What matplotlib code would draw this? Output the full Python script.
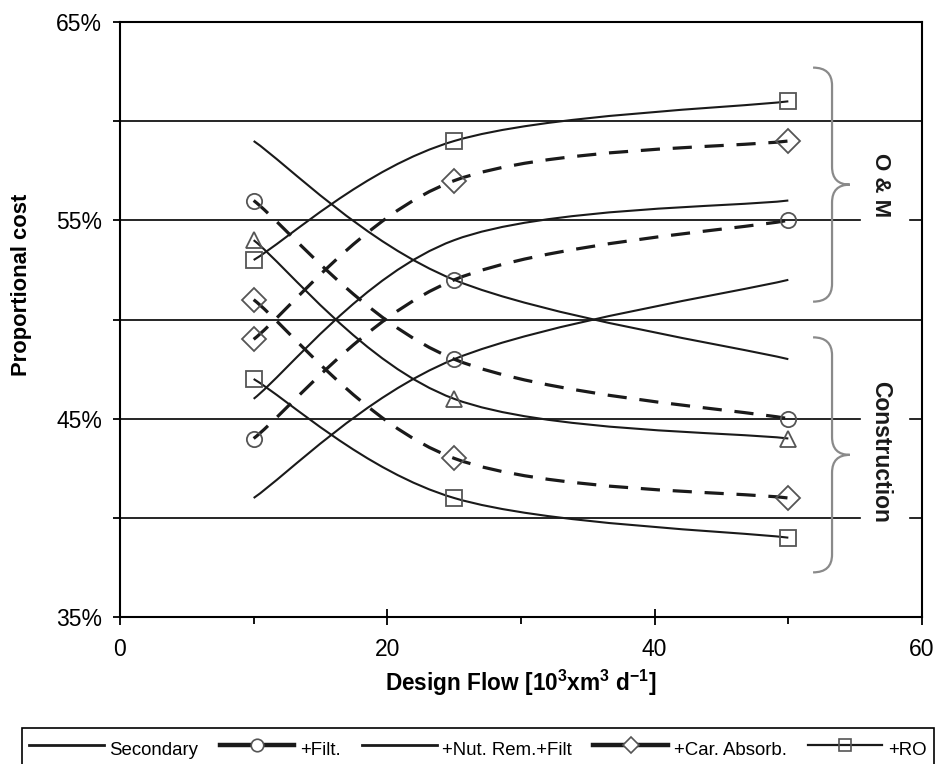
import matplotlib
matplotlib.use("Agg")
import matplotlib.pyplot as plt
from matplotlib.path import Path
from matplotlib.patches import PathPatch
from matplotlib.lines import Line2D

plt.rcParams['font.family'] = ['Liberation Sans', 'DejaVu Sans']

# --- data (proportional cost, %) ---
flow = [10, 25, 50]

secondary_om = [41, 48, 52]
secondary_con = [59, 52, 48]
filt_om = [44, 52, 55]
filt_con = [56, 48, 45]
nut_om = [46, 54, 56]
nut_con = [54, 46, 44]
car_om = [49, 57, 59]
car_con = [51, 43, 41]
ro_om = [53, 59, 61]
ro_con = [47, 41, 39]

legend_labels = ["Secondary", "+Filt.", "+Nut. Rem.+Filt", "+Car. Absorb.", "+RO"]
y_ticks = [35, 40, 45, 50, 55, 60, 65]
y_tick_labels = ["35%", "", "45%", "", "55%", "", "65%"]

LINE = '#1a1a1a'
MARK = '#555555'
BRACE = '#8a8a8a'


def smooth_path(xs, ys):
    """Excel-like smoothed line: Catmull-Rom segments as cubic Beziers."""
    pts = list(zip(xs, ys))
    n = len(pts)
    verts = [pts[0]]
    codes = [Path.MOVETO]
    for i in range(n - 1):
        p0 = pts[max(i - 1, 0)]
        p1 = pts[i]
        p2 = pts[i + 1]
        p3 = pts[min(i + 2, n - 1)]
        c1 = (p1[0] + (p2[0] - p0[0]) / 6, p1[1] + (p2[1] - p0[1]) / 6)
        c2 = (p2[0] - (p3[0] - p1[0]) / 6, p2[1] - (p3[1] - p1[1]) / 6)
        verts += [c1, c2, p2]
        codes += [Path.CURVE4] * 3
    return Path(verts, codes)


def draw_curve(ax, ys, dashed=False, marker=None):
    if dashed:
        style, lw = (0, (6.0, 4.0)), 2.3
    else:
        style, lw = '-', 1.5
    ax.add_patch(PathPatch(smooth_path(flow, ys), fill=False, edgecolor=LINE,
                           lw=lw, linestyle=style, capstyle='butt', zorder=3))
    if marker:
        ms = 12 if marker == 'D' else 11
        ax.plot(flow, ys, linestyle='none', marker=marker, ms=ms, mfc='none',
                mec=MARK, mew=1.3, zorder=4)


def draw_brace(ax, y_top, y_bot, x_end=51.85, x_spine=53.27, x_tip=54.6, r=0.9):
    ym = (y_top + y_bot) / 2
    verts = [(x_end, y_top), (x_spine, y_top), (x_spine, y_top - r),
             (x_spine, ym + r),
             (x_spine, ym), (x_tip, ym),
             (x_spine, ym), (x_spine, ym - r),
             (x_spine, y_bot + r),
             (x_spine, y_bot), (x_end, y_bot)]
    codes = [Path.MOVETO, Path.CURVE3, Path.CURVE3, Path.LINETO,
             Path.CURVE3, Path.CURVE3, Path.CURVE3, Path.CURVE3,
             Path.LINETO, Path.CURVE3, Path.CURVE3]
    ax.add_patch(PathPatch(Path(verts, codes), fill=False, edgecolor=BRACE,
                           lw=1.6, zorder=3))


fig = plt.figure(figsize=(9.36, 7.64), dpi=100)
ax = fig.add_axes([120 / 936, 1 - 617 / 764, 802 / 936, 595 / 764])
ax.set_xlim(0, 60)
ax.set_ylim(35, 65)

# horizontal grid, broken where the brace labels sit
for y in [40, 45, 50, 55, 60]:
    if y in (40, 45, 55):
        ax.axhline(y, xmax=0.923, color='black', lw=1.2, zorder=1)
        ax.axhline(y, xmin=0.985, color='black', lw=1.2, zorder=1)
    else:
        ax.axhline(y, color='black', lw=1.2, zorder=1)

# curves
draw_curve(ax, secondary_con)
draw_curve(ax, secondary_om)
draw_curve(ax, filt_con, dashed=True, marker='o')
draw_curve(ax, filt_om, dashed=True, marker='o')
draw_curve(ax, nut_con, marker='^')
draw_curve(ax, nut_om)
draw_curve(ax, car_con, dashed=True, marker='D')
draw_curve(ax, car_om, dashed=True, marker='D')
draw_curve(ax, ro_con, marker='s')
draw_curve(ax, ro_om, marker='s')

# braces and group labels
draw_brace(ax, 62.7, 50.9)
draw_brace(ax, 49.1, 37.25)
ax.text(56.9, 56.8, "O & M", rotation=-90, ha='center', va='center',
        fontsize=16, fontweight='bold', color=LINE)
ax.text(56.9, 43.3, "Construction", rotation=-90, ha='center', va='center',
        fontsize=16.5, fontweight='bold', color=LINE)

# axes styling
for sp in ax.spines.values():
    sp.set_linewidth(1.5)
ax.set_xticks([0, 20, 40, 60])
ax.set_xticks([10, 30, 50], minor=True)
ax.set_yticks(y_ticks)
ax.set_yticklabels(y_tick_labels)
ax.tick_params(axis='x', which='major', direction='inout', length=12, width=1.3,
               labelsize=16.5, pad=9)
ax.tick_params(axis='x', which='minor', direction='out', length=5, width=1.3)
ax.tick_params(axis='y', direction='out', length=5, width=1.3, labelsize=16.5, pad=8)

fig.text(22 / 936, 1 - 285 / 764, "Proportional cost", rotation=90,
         ha='center', va='center', fontsize=15.8, fontweight='bold')
fig.text(521 / 936, 1 - 691 / 764,
         r"Design Flow [10$^{\mathregular{3}}$xm$^{\mathregular{3}}$ d$^{\mathregular{-1}}$]",
         ha='center', va='baseline', fontsize=16.3, fontweight='bold')

# legend
handles = [
    Line2D([], [], color=LINE, lw=2),
    Line2D([], [], color=LINE, lw=3.2, marker='o', ms=9, mfc='white', mec=MARK, mew=1.2),
    Line2D([], [], color=LINE, lw=2),
    Line2D([], [], color=LINE, lw=3.2, marker='D', ms=8, mfc='white', mec=MARK, mew=1.2),
    Line2D([], [], color=LINE, lw=1.6, marker='s', ms=9, mfc='none', mec=MARK, mew=1.2),
]
leg = fig.legend(handles, legend_labels, loc='upper left', ncol=5, mode='expand',
                 bbox_to_anchor=(22 / 936, 36 / 764, 912 / 936, 0),
                 borderaxespad=0, fontsize=13.4, handlelength=4.0, handletextpad=0.3,
                 handleheight=1.8, fancybox=False, framealpha=1, edgecolor='black',
                 borderpad=0.4)
leg.get_frame().set_linewidth(1.2)

fig.savefig("out.png", dpi=100, facecolor='white')
